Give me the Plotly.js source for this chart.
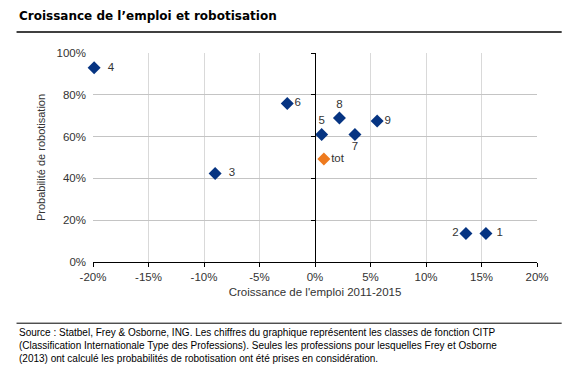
<!DOCTYPE html>
<html>
<head>
<meta charset="utf-8">
<script src="https://cdn.plot.ly/plotly-3.0.1.min.js"></script>
<style>
html,body{margin:0;padding:0;background:#fff;}
#chart{width:582px;height:374px;}
</style>
</head>
<body>
<div id="chart"></div>
<script>
// Data (percent)
var classLabels = ["1", "2", "3", "4", "5", "6", "7", "8", "9"];
var employmentGrowth = [15.4, 13.6, -9.0, -19.9, 0.6, -2.5, 3.6, 2.2, 5.6];
var robotProbability = [13.6, 13.6, 42.4, 93.0, 61.0, 75.8, 61.0, 68.9, 67.5];
var labelPositions = ["middle right", "middle left", "middle right", "middle right", "top center", "middle right", "bottom center", "top center", "middle right"];
var labelTemplates = [" %{text}", "%{text}", "  %{text}", "  %{text}", "%{text}", "%{text}", "%{text}", "%{text}", "%{text}"];
var totalLabel = ["tot"];
var totalGrowth = [0.8];
var totalProbability = [49.3];
var xTickVals = [-20, -15, -10, -5, 0, 5, 10, 15, 20];
var xTickText = ["-20%", "-15%", "-10%", "-5%", "0%", "5%", "10%", "15%", "20%"];
var yTickVals = [0, 20, 40, 60, 80, 100];
var yTickText = ["0%", "20%", "40%", "60%", "80%", "100%"];

var font = "Liberation Sans, Arial, sans-serif";
var textColor = "#333333";

var traces = [
  {
    x: employmentGrowth, y: robotProbability, text: classLabels,
    texttemplate: labelTemplates,
    type: "scatter", mode: "markers+text",
    textposition: labelPositions,
    textfont: {family: font, size: 11.5, color: textColor},
    marker: {symbol: "diamond", size: 10, color: "#063482"},
    cliponaxis: false, hoverinfo: "none"
  },
  {
    x: totalGrowth, y: totalProbability, text: totalLabel,
    type: "scatter", mode: "markers+text", yaxis: "y2",
    textposition: "middle right",
    textfont: {family: font, size: 11.5, color: textColor},
    marker: {symbol: "diamond", size: 10, color: "#EE7A1E"},
    cliponaxis: false, hoverinfo: "none"
  }
];

var layout = {
  width: 582, height: 374,
  margin: {l: 93, r: 45, t: 53, b: 112, pad: 0},
  paper_bgcolor: "#ffffff", plot_bgcolor: "#ffffff",
  showlegend: false,
  font: {family: font, size: 11, color: textColor},
  xaxis: {
    range: [-20, 20], tickvals: xTickVals, ticktext: xTickText,
    showgrid: true, gridcolor: "#d9d9d9", gridwidth: 1,
    zeroline: false, showline: true, linecolor: "#000000", linewidth: 1,
    ticks: "outside", ticklen: 4, tickcolor: "#000000",
    tickfont: {family: font, size: 11.5, color: textColor},
    title: {text: "Croissance de l'emploi 2011-2015", font: {family: font, size: 11.5, color: textColor}, standoff: 6},
    fixedrange: true
  },
  yaxis: {
    range: [0, 100], tickvals: yTickVals, ticktext: yTickText,
    showgrid: true, gridcolor: "#c4c4c4", gridwidth: 1,
    zeroline: false, showline: false,
    ticks: "", ticklabelstandoff: 6,
    tickfont: {family: font, size: 11.5, color: textColor},
    title: {text: "Probabilité de robotisation", font: {family: font, size: 11, color: textColor}, standoff: 8},
    fixedrange: true
  },
  yaxis2: {
    range: [0, 100], overlaying: "y", anchor: "free", position: 0.5, side: "left",
    tickvals: yTickVals, showticklabels: false, showgrid: false, zeroline: false,
    showline: true, linecolor: "#000000", linewidth: 1,
    ticks: "outside", ticklen: 4, tickcolor: "#000000",
    fixedrange: true
  },
  shapes: [
    {type: "line", xref: "paper", yref: "paper", x0: -0.1722, x1: 1.0556, y0: 1.1005, y1: 1.1005, line: {color: "#000000", width: 1.5}},
    {type: "line", xref: "paper", yref: "paper", x0: -0.1722, x1: 1.0556, y0: -0.2928, y1: -0.2928, line: {color: "#000000", width: 1}}
  ],
  annotations: [
    {xref: "paper", yref: "paper", x: -0.1722, y: 1.178, xanchor: "left", yanchor: "middle", showarrow: false,
     text: "<b>Croissance de l’emploi et robotisation</b>", font: {family: "DejaVu Sans, Verdana, sans-serif", size: 12, color: "#000000"}},
    {xref: "paper", yref: "paper", x: -0.1722, y: -0.3, xanchor: "left", yanchor: "top", showarrow: false, align: "left",
     text: "Source : Statbel, Frey &amp; Osborne, ING. Les chiffres du graphique représentent les classes de fonction CITP<br>(Classification Internationale Type des Professions). Seules les professions pour lesquelles Frey et Osborne<br>(2013) ont calculé les probabilités de robotisation ont été prises en considération.",
     font: {family: font, size: 10, color: "#000000"}}
  ]
};

Plotly.newPlot("chart", traces, layout, {staticPlot: true, displayModeBar: false});
</script>
</body>
</html>
